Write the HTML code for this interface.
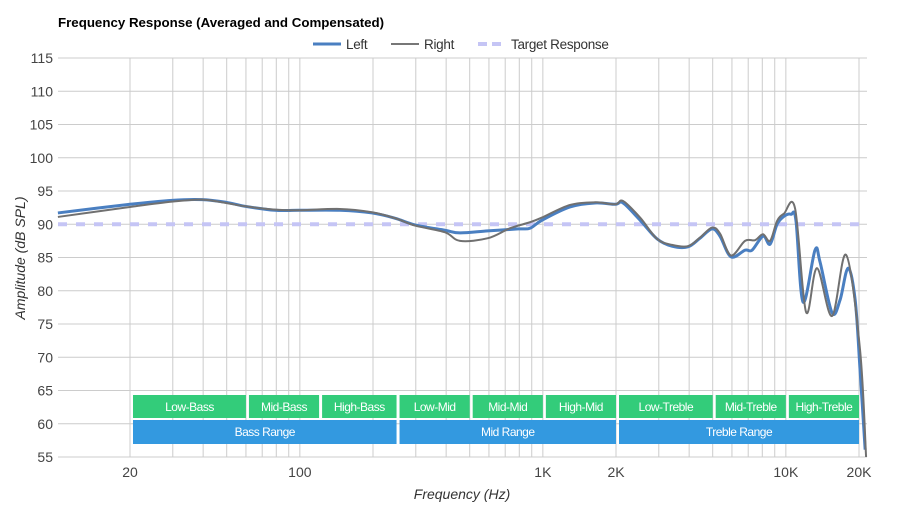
<!DOCTYPE html>
<html><head><meta charset="utf-8"><style>
body{margin:0;background:#fff;font-family:"Liberation Sans",sans-serif}
svg text{font-family:"Liberation Sans",sans-serif}
</style></head><body>
<svg id="chart" width="900" height="520">
<text x="58" y="27" font-size="13.3" font-weight="bold" fill="#000">Frequency Response (Averaged and Compensated)</text>
<g>
<line x1="313" y1="44" x2="341" y2="44" stroke="#4a7fc1" stroke-width="3"/>
<text x="346" y="49" font-size="13.5" fill="#333" letter-spacing="-0.3">Left</text>
<line x1="391" y1="44" x2="419" y2="44" stroke="#777" stroke-width="2"/>
<text x="424" y="49" font-size="13.5" fill="#333" letter-spacing="-0.3">Right</text>
<line x1="478" y1="44" x2="506" y2="44" stroke="#c5c5f5" stroke-width="4" stroke-dasharray="9,5"/>
<text x="511" y="49" font-size="13.5" fill="#333" letter-spacing="-0.3">Target Response</text>
</g>
<g id="grid"></g><g id="bands"></g><g id="series"></g><g id="axes"></g>
<text x="462" y="499" font-size="14" font-style="italic" text-anchor="middle" fill="#333">Frequency (Hz)</text>
<text transform="translate(25,258) rotate(-90)" font-size="14" font-style="italic" text-anchor="middle" fill="#333">Amplitude (dB SPL)</text>
</svg>
<script>
const leftFreq=[10.1,20,29.8,39.6,49.7,59.5,79,99.2,146,198,247,298,395,456,594,791,885,991,1293,1640,1982,2139,2513,2951,3400,3955,4433,4968,5359,5947,6791,7260,8055,8610,9204,9827,10500,11000,11770,13180,13830,15490,16710,18040,19290,20200,21200];
const leftDb=[91.7,93.0,93.6,93.7,93.3,92.7,92.1,92.1,92.1,91.7,90.9,89.9,89.1,88.7,89.0,89.3,89.4,90.6,92.6,93.2,93.0,93.2,90.6,87.8,86.7,86.6,87.9,89.3,88.2,85.1,86.1,86.1,88.2,87.0,90.0,91.2,91.5,90.6,78.3,86.1,84.3,76.7,78.6,83.4,78.6,68.1,56.1];
const rightFreq=[10.1,20,29.8,39.6,49.7,59.5,79,99.2,146,198,247,298,395,456,594,733,885,991,1293,1640,1982,2139,2513,2951,3400,3955,4433,4968,5359,5947,6791,7466,8055,8610,9204,9827,10910,12110,13430,15490,17700,20200,21390];
const rightDb=[91.1,92.6,93.4,93.7,93.2,92.7,92.2,92.1,92.3,91.8,90.9,89.8,88.8,87.5,87.9,89.4,90.3,91.0,92.9,93.3,93.0,93.5,91.0,87.8,86.9,86.7,88.0,89.5,88.6,85.3,87.5,87.6,88.5,87.5,90.5,91.6,92.4,76.8,83.4,76.2,85.4,71.1,55];
const targetDb=90;
const yTicks=[55,60,65,70,75,80,85,90,95,100,105,110,115];
const xTickVals=[20,100,1000,2000,10000,20000];
const xTickLabels=["20","100","1K","2K","10K","20K"];
const bandNames=["Low-Bass","Mid-Bass","High-Bass","Low-Mid","Mid-Mid","High-Mid","Low-Treble","Mid-Treble","High-Treble"];
const bandEdges=[20,60,120,250,500,1000,2000,5000,10000,20000];
const rangeNames=["Bass Range","Mid Range","Treble Range"];
const rangeEdges=[20,250,2000,20000];

const NS="http://www.w3.org/2000/svg";
const X0=58,X1=867,Y0=58,Y1=457;
const xs=f=>130+243*Math.log10(f/20);
const ys=v=>Y1-(v-55)*(Y1-Y0)/60;
function el(t,a,p){const e=document.createElementNS(NS,t);for(const k in a)e.setAttribute(k,a[k]);p.appendChild(e);return e;}
const grid=document.getElementById('grid'),axes=document.getElementById('axes'),bands=document.getElementById('bands'),series=document.getElementById('series');
yTicks.forEach(v=>{
 const l=el('line',{x1:X0,x2:X1,y1:ys(v),y2:ys(v),stroke:'#ccc','stroke-width':1},grid);
 
 
 const t=el('text',{x:53,y:ys(v)+5,'font-size':14,'text-anchor':'end',fill:'#444'},axes);
 t.textContent=v;
 
 
});
for(let d=10;d<=10000;d*=10){for(let m=1;m<10;m++){const f=d*m;if(f<10||f>20000)continue;
 const x=xs(f);if(x<X0-1||x>X1)continue;
 const l=el('line',{x1:x,x2:x,y1:Y0,y2:Y1,stroke:'#ccc','stroke-width':1},grid);
 
 
}}
{const l=el('line',{x1:xs(20000),x2:xs(20000),y1:Y0,y2:Y1,stroke:'#ccc'},grid);

}
xTickVals.forEach((f,i)=>{
 const t=el('text',{x:xs(f),y:477,'font-size':14,'text-anchor':'middle',fill:'#444'},axes);
 t.textContent=xTickLabels[i];
 
 
});
bandNames.forEach((n,i)=>{
 const a=xs(bandEdges[i])+3,b=xs(bandEdges[i+1]);
 const r=el('rect',{x:a,y:395,width:b-a,height:23,fill:'#33cc7a'},bands);
 
 
 const t=el('text',{x:(a+b)/2,y:411,'font-size':12,'text-anchor':'middle',fill:'#fff','letter-spacing':'-0.5'},bands);
 t.textContent=n;
 
 
});
rangeNames.forEach((n,i)=>{
 const a=xs(rangeEdges[i])+3,b=xs(rangeEdges[i+1]);
 const r=el('rect',{x:a,y:420,width:b-a,height:24,fill:'#3399e0'},bands);
 
 
 const t=el('text',{x:(a+b)/2,y:436,'font-size':12,'text-anchor':'middle',fill:'#fff','letter-spacing':'-0.5'},bands);
 t.textContent=n;
 
 
});
function path(fr,db){
 const p=fr.map((f,i)=>[xs(f),ys(db[i])]);
 let d='M'+p[0][0]+','+p[0][1];
 for(let i=0;i<p.length-1;i++){
  const p0=p[i-1]||p[i],p1=p[i],p2=p[i+1],p3=p[i+2]||p2,k=6;
  d+=` C${p1[0]+(p2[0]-p0[0])/k},${p1[1]+(p2[1]-p0[1])/k} ${p2[0]-(p3[0]-p1[0])/k},${p2[1]-(p3[1]-p1[1])/k} ${p2[0]},${p2[1]}`;
 }
 return d;
}
const tl=el('line',{x1:X0,x2:X1,y1:ys(targetDb),y2:ys(targetDb),stroke:'#c5c5f5','stroke-width':4,'stroke-dasharray':'9,9'},series);


const lp=el('path',{d:path(leftFreq,leftDb),fill:'none',stroke:'#4a7fc1','stroke-width':3},series);


const rp=el('path',{d:path(rightFreq,rightDb),fill:'none',stroke:'#707070','stroke-width':2},series);


</script>
</body></html>
